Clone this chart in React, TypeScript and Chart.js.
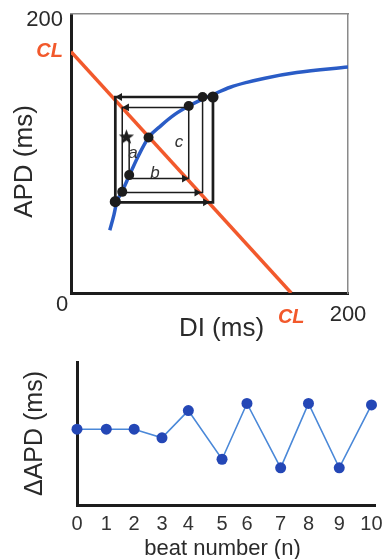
import React, { useEffect, useRef } from "react";
import { Chart, registerables } from "chart.js";
Chart.register(...registerables);

const FONT = "'Liberation Sans', Arial, Helvetica, sans-serif";
const ORANGE = "#f2592c";
const BLUE = "#2a5cc6";
const INK = "#1c1c1c";
const TEXT = "#2a2a2a";

// ---- Top panel: restitution curve (DI vs APD, ms) ----
const axisMin = 0;
const axisMax = 200;
const topAxisLabels = ["0", "200"];
const clText = "CL";
const restitutionDI = [28, 31, 33, 37, 42, 48, 56, 65, 75, 85, 95, 103, 115, 127, 140, 163, 200];
const restitutionAPD = [45, 56, 65, 73, 84, 97, 111.5, 120, 128, 134, 139, 142.5, 147.5, 151, 154, 158, 162];
const clLineDI = [0, 159];
const clLineAPD = [173, 0];
// cobweb path (inner thin part, then outer thick part)
const cobwebInnerDI = [42, 42, 85, 85, 37, 37, 95, 95];
const cobwebInnerAPD = [110, 82, 82, 133, 133, 72, 72, 140.5];
const cobwebOuterDI = [102.5, 32, 32, 102.5, 102.5];
const cobwebOuterAPD = [140.5, 140.5, 65, 65, 140.5];
const arrowDI = [81.8, 40.2, 90.8, 35.2, 97];
const arrowAPD = [82, 133, 72, 140.5, 65];
const arrowAngle = [90, 270, 90, 270, 90];
const dotDI = [32, 37, 42, 56, 85, 95, 102.5];
const dotAPD = [65.5, 72.5, 84.5, 111.5, 134, 140.5, 140.5];
const dotSize = [5.6, 5, 5, 5, 5, 5, 5.6];
const starDI = [40];
const starAPD = [112];
const noteText = ["a", "b", "c"];
const noteDI = [44.8, 60.6, 78];
const noteAPD = [100, 86, 108];
const topXTitle = "DI (ms)";
const topYTitle = "APD (ms)";

// ---- Bottom panel: ΔAPD vs beat number ----
const beatLabels = ["0", "1", "2", "3", "4", "5", "6", "7", "8", "9", "10"];
const beatPos = [0, 1.0, 1.95, 2.9, 3.8, 4.95, 5.8, 6.95, 7.9, 8.95, 10.05];
const deltaAPD = [5.3, 5.3, 5.3, 4.7, 6.6, 3.2, 7.1, 2.6, 7.1, 2.6, 7.0];
const botXTitle = "beat number (n)";
const botYTitle = "ΔAPD (ms)";

function pts(xs: number[], ys: number[]) {
  return xs.map((x, i) => ({ x, y: ys[i] }));
}

function makeStar(): HTMLCanvasElement {
  const c = document.createElement("canvas");
  c.width = 17;
  c.height = 17;
  const g = c.getContext("2d")!;
  g.fillStyle = INK;
  g.beginPath();
  for (let i = 0; i < 10; i++) {
    const r = i % 2 === 0 ? 8 : 3.3;
    const a = -Math.PI / 2 + (i * Math.PI) / 5;
    const px = 8.5 + r * Math.cos(a);
    const py = 9 + r * Math.sin(a);
    if (i === 0) g.moveTo(px, py);
    else g.lineTo(px, py);
  }
  g.closePath();
  g.fill();
  return c;
}

const topTextPlugin = {
  id: "topText",
  afterDraw(chart: any) {
    const { ctx, chartArea: ca, scales } = chart;
    const x = scales.x;
    const y = scales.y;
    ctx.save();
    ctx.textBaseline = "middle";
    // axis numbers
    ctx.fillStyle = TEXT;
    ctx.font = `22px ${FONT}`;
    ctx.textAlign = "right";
    ctx.fillText(topAxisLabels[1], ca.left - 8, y.getPixelForValue(axisMax) + 6);
    ctx.textAlign = "center";
    ctx.fillText(topAxisLabels[0], ca.left - 9, ca.bottom + 12);
    ctx.fillText(topAxisLabels[1], x.getPixelForValue(axisMax), ca.bottom + 22);
    // CL labels
    ctx.fillStyle = ORANGE;
    ctx.font = `italic bold 20px ${FONT}`;
    ctx.textAlign = "right";
    ctx.fillText(clText, ca.left - 8, y.getPixelForValue(clLineAPD[0]));
    ctx.textAlign = "center";
    ctx.fillText(clText, x.getPixelForValue(clLineDI[1]), ca.bottom + 24);
    // titles
    ctx.fillStyle = TEXT;
    ctx.font = `26px ${FONT}`;
    ctx.fillText(topXTitle, (ca.left + ca.right) / 2 + 12, ca.bottom + 36);
    ctx.save();
    ctx.translate(ca.left - 46, (ca.top + ca.bottom) / 2 + 8);
    ctx.rotate(-Math.PI / 2);
    ctx.fillText(topYTitle, 0, 0);
    ctx.restore();
    // cobweb notes
    ctx.fillStyle = "#333";
    ctx.font = `italic 17px ${FONT}`;
    noteText.forEach((t, i) => {
      ctx.fillText(t, x.getPixelForValue(noteDI[i]), y.getPixelForValue(noteAPD[i]));
    });
    ctx.restore();
  },
};

const botTextPlugin = {
  id: "botText",
  afterDraw(chart: any) {
    const { ctx, chartArea: ca } = chart;
    ctx.save();
    ctx.fillStyle = TEXT;
    ctx.font = `22px ${FONT}`;
    ctx.textAlign = "center";
    ctx.textBaseline = "alphabetic";
    ctx.fillText(botXTitle, (ca.left + ca.right) / 2 - 3.5, ca.bottom + 50);
    ctx.restore();
  },
};

const hiddenAxis = (position: string, color: string, width: number) => ({
  type: "linear",
  position,
  min: axisMin,
  max: axisMax,
  ticks: { display: false },
  grid: { display: false, drawTicks: false },
  border: { display: true, color, width },
});

export default function App() {
  const topRef = useRef<HTMLCanvasElement>(null);
  const botRef = useRef<HTMLCanvasElement>(null);

  useEffect(() => {
    const star = makeStar();
    const top = new Chart(topRef.current!, {
      type: "scatter",
      data: {
        datasets: [
          {
            data: pts(clLineDI, clLineAPD),
            showLine: true,
            borderColor: ORANGE,
            borderWidth: 3.5,
            pointRadius: 0,
            order: 6,
          },
          {
            data: pts(restitutionDI, restitutionAPD),
            showLine: true,
            borderColor: BLUE,
            borderWidth: 3.5,
            pointRadius: 0,
            cubicInterpolationMode: "monotone",
            order: 5,
          },
          {
            data: pts(cobwebInnerDI, cobwebInnerAPD),
            showLine: true,
            borderColor: INK,
            borderWidth: 1.5,
            pointRadius: 0,
            order: 4,
          },
          {
            data: pts(cobwebOuterDI, cobwebOuterAPD),
            showLine: true,
            borderColor: INK,
            borderWidth: 2.7,
            pointRadius: 0,
            order: 3,
          },
          {
            data: pts(arrowDI, arrowAPD),
            pointStyle: "triangle",
            rotation: arrowAngle,
            pointRadius: 4.5,
            backgroundColor: INK,
            borderColor: INK,
            borderWidth: 0,
            order: 2,
          },
          {
            data: pts(dotDI, dotAPD),
            pointRadius: dotSize,
            backgroundColor: INK,
            borderColor: INK,
            borderWidth: 0,
            order: 1,
          },
          {
            data: pts(starDI, starAPD),
            pointStyle: star,
            pointRadius: 8,
            order: 0,
          },
        ] as any,
      },
      options: {
        responsive: false,
        animation: false,
        devicePixelRatio: 1,
        layout: { padding: { left: 71, right: 35, top: 14, bottom: 52 } },
        plugins: { legend: { display: false }, tooltip: { enabled: false } },
        scales: {
          x: hiddenAxis("bottom", INK, 3),
          y: hiddenAxis("left", INK, 3),
          x2: hiddenAxis("top", "#8a8a8a", 1.5),
          y2: hiddenAxis("right", "#8a8a8a", 1.5),
        } as any,
      },
      plugins: [topTextPlugin],
    });

    const bot = new Chart(botRef.current!, {
      type: "scatter",
      data: {
        datasets: [
          {
            data: pts(beatPos, deltaAPD),
            showLine: true,
            borderColor: "#4a88d8",
            borderWidth: 1.6,
            pointRadius: 5.5,
            pointBackgroundColor: "#2447b6",
            pointBorderColor: "#2447b6",
            pointBorderWidth: 0,
            clip: false,
          },
        ] as any,
      },
      options: {
        responsive: false,
        animation: false,
        devicePixelRatio: 1,
        layout: { padding: { left: 10, right: 25, top: 17, bottom: 16 } },
        plugins: { legend: { display: false }, tooltip: { enabled: false } },
        scales: {
          x: {
            type: "linear",
            min: 0,
            max: 10.17,
            afterBuildTicks: (s: any) => {
              s.ticks = beatPos.map((v) => ({ value: v }));
            },
            ticks: {
              callback: (_v: any, i: number) => beatLabels[i],
              font: { family: FONT, size: 20, lineHeight: 1.2 },
              color: "#333",
              padding: 7,
              maxRotation: 0,
              autoSkip: false,
            },
            grid: { display: false, drawTicks: false },
            border: { display: true, color: INK, width: 3 },
            title: { display: false, text: botXTitle },
          },
          y: {
            type: "linear",
            min: 0,
            max: 10,
            ticks: { display: false },
            grid: { display: false, drawTicks: false },
            border: { display: true, color: INK, width: 3 },
            title: {
              display: true,
              text: botYTitle,
              color: TEXT,
              font: { family: FONT, size: 25, lineHeight: 1 },
              padding: { top: 13, bottom: 29 },
            },
          },
        } as any,
      },
      plugins: [botTextPlugin],
    });

    return () => {
      top.destroy();
      bot.destroy();
    };
  }, []);

  return (
    <div
      style={{
        position: "absolute",
        left: 0,
        top: 0,
        width: 383,
        height: 559,
        overflow: "hidden",
        background: "#fff",
      }}
    >
      <canvas ref={topRef} width={383} height={345} style={{ position: "absolute", left: 0, top: 0 }} />
      <canvas ref={botRef} width={400} height={214} style={{ position: "absolute", left: 0, top: 345 }} />
    </div>
  );
}
